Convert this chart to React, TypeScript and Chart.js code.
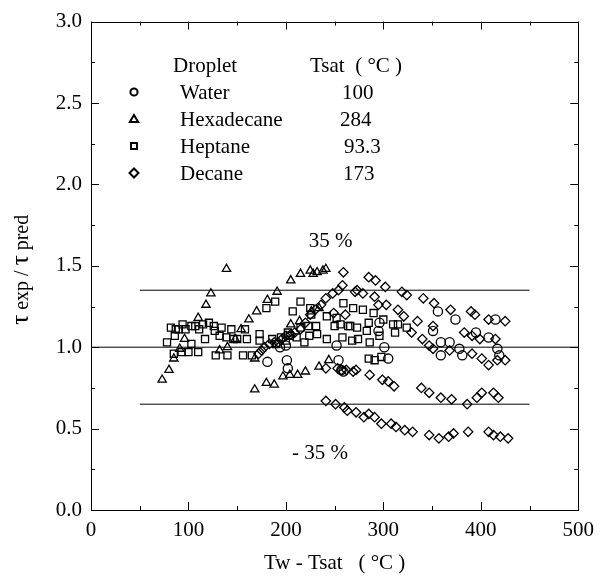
import React, { useEffect, useRef } from 'react';
import { Chart, registerables } from 'chart.js';

Chart.register(...registerables);

type P = [number, number];

// Tw - Tsat (°C), tau_exp / tau_pred
const water: P[] = [
  [181, 0.91], [194, 1.0], [200, 1.01], [201, 0.92], [202, 0.87], [252, 1.01], [254, 0.92],
  [257, 0.86], [259, 0.85], [295, 1.1], [296, 1.15], [301, 1.0], [305, 0.93], [351, 1.1],
  [356, 1.22], [359, 1.03], [359, 0.95], [368, 1.03], [374, 1.17], [378, 0.99], [381, 0.95],
  [395, 1.09], [408, 1.06], [415, 1.17], [417, 0.99], [419, 0.95],
];

const hexadecane: P[] = [
  [73, 0.8], [80, 0.86], [85, 0.93], [91, 0.99], [96, 1.05], [110, 1.18], [118, 1.26], [123, 1.33], [139, 1.48],
  [132, 0.98], [140, 1.0], [148, 1.05], [154, 1.11], [162, 1.17], [170, 1.22], [181, 1.29], [191, 1.34],
  [205, 1.41], [215, 1.45], [225, 1.47], [228, 1.45], [232, 1.46], [238, 1.47], [241, 1.48],
  [168, 0.74], [168, 0.93], [180, 0.78], [188, 0.77], [197, 0.82], [204, 0.83], [212, 0.83], [220, 0.85],
  [234, 0.88], [244, 0.92], [205, 1.14], [214, 1.16], [226, 1.22], [234, 1.24],
];

const heptane: P[] = [
  [78, 1.03], [82, 1.12], [85, 0.96], [86, 1.07], [87, 1.11], [90, 1.11], [93, 0.97], [94, 1.14], [97, 1.11],
  [100, 0.97], [103, 1.13], [103, 1.02], [107, 1.13], [110, 0.97], [111, 1.11], [115, 1.14], [117, 1.05],
  [121, 1.15], [126, 1.13], [127, 1.1], [128, 0.95], [132, 1.07], [134, 1.12], [139, 1.06], [140, 0.95],
  [144, 1.11], [146, 1.05], [150, 1.05], [156, 0.95], [158, 1.11], [160, 1.05], [165, 0.95],
  [173, 1.08], [173, 1.04], [180, 1.24], [186, 1.05], [189, 1.28], [190, 1.02], [195, 1.06], [200, 1.04],
  [202, 1.09], [204, 1.07], [207, 1.22], [211, 1.06], [215, 1.28], [215, 1.12], [219, 1.03], [223, 1.13],
  [224, 1.07], [225, 1.24], [226, 1.2], [231, 1.13], [232, 1.08], [242, 1.19], [242, 1.05], [250, 1.13],
  [252, 1.18], [256, 1.14], [258, 1.06], [259, 1.27], [264, 1.13], [266, 1.13], [268, 1.04], [269, 1.24],
  [273, 1.12], [274, 1.05], [279, 1.23], [283, 1.1], [285, 1.15], [285, 0.93], [286, 1.03], [290, 1.21],
  [291, 0.92], [296, 1.07], [298, 0.94], [300, 1.17], [310, 1.14], [312, 1.09], [315, 1.14], [324, 1.12],
];

const decane: P[] = [
  [172, 0.96], [175, 0.98], [178, 1.0], [183, 1.02], [188, 1.03], [192, 1.03], [196, 1.05], [200, 1.07],
  [205, 1.08], [209, 1.09], [215, 1.11], [220, 1.15], [225, 1.2], [230, 1.23], [236, 1.26], [241, 1.3],
  [248, 1.33], [254, 1.35], [258, 1.38], [259, 1.46], [249, 1.21], [261, 1.2],
  [271, 1.34], [273, 1.35], [279, 1.33], [285, 1.43], [291, 1.31], [292, 1.41], [295, 1.26], [302, 1.37],
  [303, 1.26], [315, 1.23], [319, 1.34], [321, 1.19], [324, 1.32], [335, 1.16], [341, 1.3], [351, 1.13],
  [352, 1.27], [369, 1.23], [383, 1.09], [390, 1.22], [391, 1.07], [394, 1.2], [399, 1.05], [408, 1.17],
  [415, 1.05], [425, 1.16],
  [329, 1.09], [340, 1.05], [347, 1.01], [351, 0.99], [368, 0.98], [391, 0.96], [401, 0.93], [408, 0.89],
  [417, 0.92], [425, 0.92],
  [241, 0.87], [253, 0.87], [257, 0.86], [262, 0.86], [269, 0.85], [272, 0.86], [286, 0.83], [299, 0.8],
  [305, 0.79], [311, 0.76], [339, 0.75], [347, 0.72], [359, 0.69], [370, 0.68], [386, 0.65], [396, 0.69],
  [401, 0.72], [413, 0.72], [418, 0.69],
  [241, 0.67], [251, 0.65], [260, 0.63], [263, 0.61], [272, 0.6], [280, 0.57], [285, 0.59], [291, 0.57],
  [298, 0.53], [308, 0.53], [313, 0.51], [322, 0.49], [330, 0.48], [347, 0.46], [357, 0.44], [367, 0.45],
  [372, 0.47], [387, 0.48], [408, 0.48], [413, 0.46], [420, 0.45], [428, 0.44],
];

const unityLineX = [0, 500];
const bandLineX = [50, 450];
const unityValue = 1.0;
const upperBand = 1.35;
const lowerBand = 0.65;

const legendNames = ['Water', 'Hexadecane', 'Heptane', 'Decane'];
const legendTsat = ['100', '284', '93.3', '173'];
const bandLabels = ['35 %', '- 35 %'];

const FONT = "'Liberation Serif', 'Times New Roman', serif";

const toXY = (arr: P[]) => arr.map(([x, y]) => ({ x, y }));

const decorPlugin = {
  id: 'decor',
  afterDraw(chart: any) {
    const ctx: CanvasRenderingContext2D = chart.ctx;
    const { left, right, top, bottom } = chart.chartArea;
    const xs = chart.scales.x;
    const ys = chart.scales.y;
    ctx.save();
    ctx.strokeStyle = '#000';
    ctx.lineWidth = 1;
    // frame
    ctx.strokeRect(Math.round(left) + 0.5, Math.round(top) + 0.5, Math.round(right - left), Math.round(bottom - top));
    // inward ticks
    ctx.beginPath();
    for (let v = 0; v <= 500; v += 50) {
      const px = Math.round(xs.getPixelForValue(v)) + 0.5;
      const len = v % 100 === 0 ? 8 : 4;
      ctx.moveTo(px, bottom);
      ctx.lineTo(px, bottom - len);
      ctx.moveTo(px, top);
      ctx.lineTo(px, top + len);
    }
    for (let i = 0; i <= 12; i++) {
      const v = i * 0.25;
      const py = Math.round(ys.getPixelForValue(v)) + 0.5;
      const len = i % 2 === 0 ? 8 : 4;
      ctx.moveTo(left, py);
      ctx.lineTo(left + len, py);
      ctx.moveTo(right, py);
      ctx.lineTo(right - len, py);
    }
    ctx.stroke();

    ctx.fillStyle = '#000';
    // y-axis title
    ctx.save();
    ctx.translate(22, (top + bottom) / 2 + 4);
    ctx.rotate(-Math.PI / 2);
    const parts: [string, number][] = [['τ', 25], [' exp / ', 20], ['τ', 25], [' pred', 20]];
    let total = 0;
    for (const [t, s] of parts) {
      ctx.font = `${s}px ${FONT}`;
      total += ctx.measureText(t).width;
    }
    let cx = -total / 2;
    ctx.textBaseline = 'alphabetic';
    for (const [t, s] of parts) {
      ctx.font = `${s}px ${FONT}`;
      ctx.fillText(t, cx, 6);
      cx += ctx.measureText(t).width;
    }
    ctx.restore();

    // legend
    ctx.font = `21px ${FONT}`;
    ctx.textBaseline = 'alphabetic';
    ctx.textAlign = 'left';
    ctx.fillText('Droplet', 173, 72);
    ctx.fillText('Tsat  ( °C )', 310, 72);
    const tsatX = [342, 340, 344, 343];
    ctx.lineWidth = 2;
    legendNames.forEach((name, i) => {
      const base = 99 + i * 27;
      ctx.fillText(name, 180, base);
      ctx.fillText(legendTsat[i], tsatX[i], base);
      const my = base - 7;
      const mx = 134;
      ctx.beginPath();
      if (i === 0) {
        ctx.arc(mx, my, 3.6, 0, Math.PI * 2);
      } else if (i === 1) {
        ctx.moveTo(mx, my - 4);
        ctx.lineTo(mx + 4.2, my + 3);
        ctx.lineTo(mx - 4.2, my + 3);
        ctx.closePath();
      } else if (i === 2) {
        ctx.rect(mx - 3, my - 3, 6, 6);
      } else {
        ctx.moveTo(mx, my - 4.5);
        ctx.lineTo(mx + 4.5, my);
        ctx.lineTo(mx, my + 4.5);
        ctx.lineTo(mx - 4.5, my);
        ctx.closePath();
      }
      ctx.stroke();
    });

    // band labels
    ctx.textAlign = 'center';
    ctx.textBaseline = 'middle';
    ctx.fillText(bandLabels[0], xs.getPixelForValue(246), ys.getPixelForValue(1.65));
    ctx.fillText(bandLabels[1], xs.getPixelForValue(235), ys.getPixelForValue(0.35));
    ctx.restore();
  },
};

export default function App() {
  const ref = useRef<HTMLCanvasElement>(null);
  useEffect(() => {
    if (!ref.current) return;
    const mk = (data: P[], style: string, radius: number) => ({
      type: 'scatter' as const,
      data: toXY(data),
      pointStyle: style,
      pointRadius: radius,
      pointHoverRadius: radius,
      pointBorderWidth: 1.3,
      borderColor: '#000',
      backgroundColor: 'rgba(0,0,0,0)',
      showLine: false,
    });
    const line = (xs: number[], y: number) => ({
      type: 'line' as const,
      data: xs.map((x) => ({ x, y })),
      borderColor: '#000',
      borderWidth: 1,
      pointRadius: 0,
      showLine: true,
      fill: false,
    });
    const chart = new Chart(ref.current, {
      type: 'scatter',
      data: {
        datasets: [
          line(unityLineX, unityValue),
          line(bandLineX, upperBand),
          line(bandLineX, lowerBand),
          mk(water, 'circle', 4.6),
          mk(hexadecane, 'triangle', 4.8),
          mk(heptane, 'rect', 5),
          mk(decane, 'rectRot', 4.7),
        ] as any,
      },
      options: {
        responsive: false,
        animation: false,
        layout: { padding: { top: 18, right: 18, left: 0, bottom: 0 } },
        plugins: { legend: { display: false }, tooltip: { enabled: false } },
        scales: {
          x: {
            type: 'linear',
            min: 0,
            max: 500,
            ticks: { stepSize: 100, padding: 8, color: '#000', font: { family: FONT, size: 21 } },
            grid: { display: false, drawTicks: false },
            border: { display: false },
            title: {
              display: true,
              text: 'Tw - Tsat   ( °C )',
              color: '#000',
              font: { family: FONT, size: 21 },
              padding: { top: 0, bottom: 4 },
            },
            afterFit: (s: any) => { s.height = 70; },
          },
          y: {
            type: 'linear',
            min: 0,
            max: 3,
            ticks: {
              stepSize: 0.5,
              padding: 9,
              color: '#000',
              font: { family: FONT, size: 21 },
              callback: (v: any) => Number(v).toFixed(1),
            },
            grid: { display: false, drawTicks: false },
            border: { display: false },
            afterFit: (s: any) => { s.width = 91; },
          },
        },
      },
      plugins: [decorPlugin],
    });
    return () => chart.destroy();
  }, []);
  return (
    <div style={{ position: 'fixed', left: 0, top: 0, width: 602, height: 580, background: '#fff' }}>
      <canvas ref={ref} width={602} height={580} />
    </div>
  );
}
